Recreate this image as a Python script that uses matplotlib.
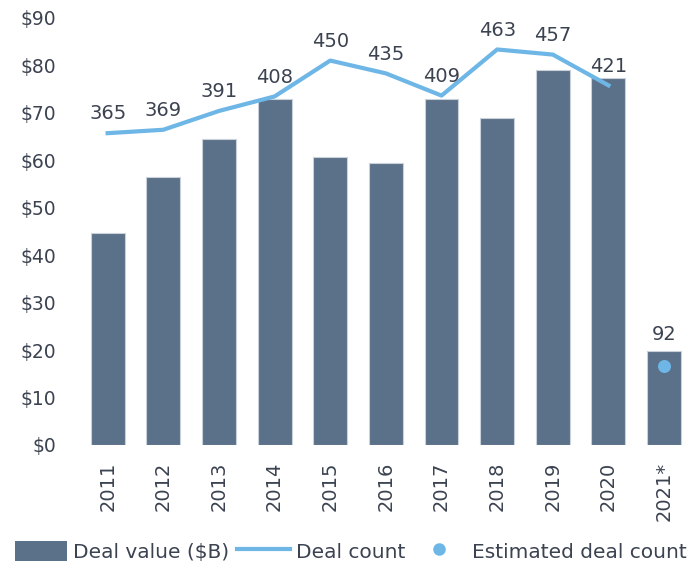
"""Deal value and deal count by year, with the 2021 estimate."""
import matplotlib
matplotlib.use("Agg")
import matplotlib.pyplot as plt
from matplotlib.lines import Line2D
from matplotlib.patches import Patch

years = ["2011", "2012", "2013", "2014", "2015", "2016", "2017", "2018", "2019", "2020", "2021*"]
deal_value = [44.7, 56.5, 64.5, 72.9, 60.7, 59.4, 72.9, 68.9, 79.0, 77.4, 19.8]
deal_count = [365, 369, 391, 408, 450, 435, 409, 463, 457, 421]
estimated_count = 92
value_ticks = [0, 10, 20, 30, 40, 50, 60, 70, 80, 90]

bar_color = "#5b7089"
line_color = "#6db6e6"
text_color = "#3b4250"

plt.rcParams["font.family"] = ["DejaVu Sans"]
plt.rcParams["font.size"] = 13.5

fig = plt.figure(figsize=(6.94, 5.65), dpi=100)
ax = fig.add_axes([0.115, 0.2124, 0.882, 0.756])
positions = list(range(len(years)))
ax.bar(positions, deal_value, width=0.61, color=bar_color, edgecolor="#c9d1db", linewidth=0.8, zorder=2)
ax.set_xlim(-0.5, len(years) - 0.5)
ax.set_ylim(0, 90)
ax.set_yticks(value_ticks)
ax.set_yticklabels([f"${v}" for v in value_ticks], color=text_color)
ax.set_xticks(positions)
ax.set_xticklabels(years, rotation=90, color=text_color, fontsize=14)
ax.tick_params(axis="y", length=0, pad=17)
ax.tick_params(axis="x", length=0, pad=12)
for side in ax.spines.values():
    side.set_visible(False)

count_ax = ax.twinx()
count_ax.set_ylim(0, 500)
count_ax.axis("off")
count_ax.plot(positions[:len(deal_count)], deal_count, color=line_color, linewidth=3, zorder=3)
for x, c in zip(positions, deal_count):
    count_ax.annotate(str(c), (x, c), xytext=(0, 7), textcoords="offset points",
                      ha="center", va="bottom", color=text_color, fontsize=14)
count_ax.scatter([positions[-1]], [estimated_count], s=70, color=line_color, zorder=4)
ax.annotate(str(estimated_count), (positions[-1], deal_value[-1]), xytext=(0, 5),
            textcoords="offset points", ha="center", va="bottom", color=text_color, fontsize=14)

handles = [
    Patch(facecolor=bar_color, label="Deal value ($B)"),
    Line2D([], [], color=line_color, linewidth=3, label="Deal count"),
    Line2D([], [], color=line_color, marker="o", linestyle="none", markersize=8, label="Estimated deal count"),
]
fig.legend(handles=handles, loc="center", bbox_to_anchor=(0.505, 0.024), ncol=3, frameon=False,
           fontsize=14.5, handlelength=2.6, handleheight=1.1, handletextpad=0.3, columnspacing=0.4,
           labelcolor=text_color, borderaxespad=0, borderpad=0)

fig.savefig("out.png", dpi=100)
